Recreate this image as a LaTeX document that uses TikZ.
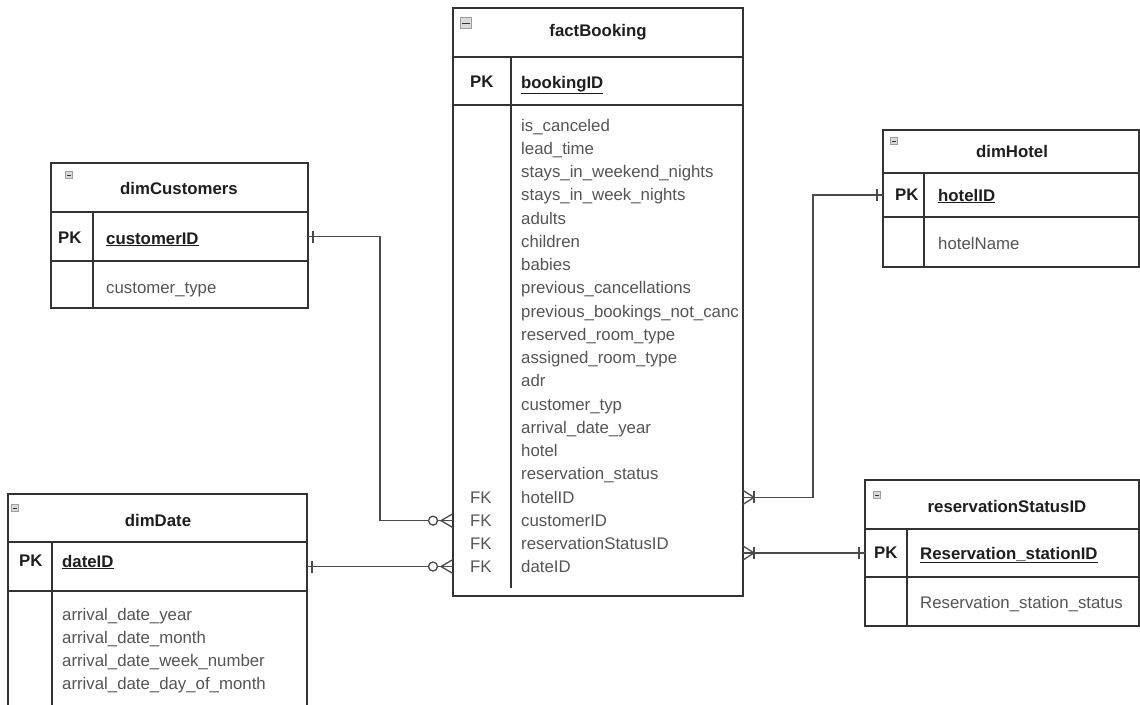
\documentclass[tikz,border=0pt]{standalone}
\usepackage{fontspec}
\setmainfont{Liberation Sans}
\definecolor{linec}{HTML}{333333}
\definecolor{connc}{HTML}{4A4A4A}
\definecolor{fieldc}{HTML}{555555}
\definecolor{titlec}{HTML}{1E1E1E}
\begin{document}
\begin{tikzpicture}[x=1pt,y=-1pt,
  box/.style={draw=linec, line width=1.3pt, inner sep=0pt, outer sep=0pt, anchor=north west},
  divl/.style={draw=linec, line width=1.3pt},
  conn/.style={draw=connc, line width=1.3pt},
  ttl/.style={font=\fontsize{16.8}{20}\selectfont\bfseries, text=titlec, inner sep=0pt},
  fld/.style={font=\fontsize{16.8}{20}\selectfont, text=fieldc, inner sep=0pt, anchor=base west},
  pkl/.style={font=\fontsize{16.8}{20}\selectfont\bfseries, text=titlec, inner sep=0pt, anchor=west},
  pkf/.style={font=\fontsize{16.8}{20}\selectfont\bfseries, text=titlec, inner sep=0pt, anchor=base west},
  icon/.style={draw=gray!75, fill=gray!30, minimum size=#1, inner sep=0pt, line width=0.6pt,
    path picture={\draw[gray!40!black, line width=0.8pt]
      ([xshift=1.5pt]path picture bounding box.west) -- ([xshift=-1.5pt]path picture bounding box.east);}},
  one/.pic={\draw[conn] (0,-6) -- (0,6);},
  zmany/.pic={\draw[conn] (0,-7) -- (-12,0) -- (0,7); \draw[conn, fill=white] (-20,0) circle (4.5pt);},
  omany/.pic={\draw[conn] (0,-7) -- (11,0) -- (0,7); \draw[conn] (11,-6) -- (11,6);}
]
\fill[white] (0,0) rectangle (1140,704);
\useasboundingbox (0,0) rectangle (1140,704);

% ---------- factBooking ----------
\node[box, minimum width=290pt, minimum height=49pt] (fbTitle) at (453,8) {};
\node[box, minimum width=290pt, minimum height=48pt] (fbPK) at (453,57) {};
\node[box, minimum width=290pt, minimum height=491pt] (fbBody) at (453,105) {};
\draw[divl] ([xshift=58pt]fbPK.north west) -- ([xshift=58pt]fbPK.south west);
\draw[divl] ([xshift=58pt]fbBody.north west) -- ([xshift=58pt,yshift=8pt]fbBody.south west);
\node[icon=11pt] (fbIcon) at (466,23) {};
\node[ttl] (fbT) at (598,32) {factBooking};
\node[pkl] (fbPKl) at (470,82) {PK};
\node[pkf] (fbPKf) at (521,88) {\underline{bookingID}};
\begin{scope}
\clip (fbBody.north west) rectangle (fbBody.south east);
\foreach \t [count=\i] in {is\_canceled, lead\_time, stays\_in\_weekend\_nights, stays\_in\_week\_nights,
  adults, children, babies, previous\_cancellations, previous\_bookings\_not\_canc,
  reserved\_room\_type, assigned\_room\_type, adr, customer\_typ, arrival\_date\_year, hotel,
  reservation\_status, hotelID, customerID, reservationStatusID, dateID}
  \node[fld] (fbf\i) at (521,{131+23.26*(\i-1)}) {\t};
\end{scope}
\node[fld] (fkH) at (470,{131+23.26*16}) {FK};
\node[fld] (fkC) at (470,{131+23.26*17}) {FK};
\node[fld] (fkR) at (470,{131+23.26*18}) {FK};
\node[fld] (fkD) at (470,{131+23.26*19}) {FK};

% ---------- dimCustomers ----------
\node[box, minimum width=257pt, minimum height=49pt] (custTitle) at (51,163) {};
\node[box, minimum width=257pt, minimum height=49pt] (custPK) at (51,212) {};
\node[box, minimum width=257pt, minimum height=47pt] (custBody) at (51,261) {};
\draw[divl] ([xshift=42pt]custPK.north west) -- ([xshift=42pt]custBody.south west);
\node[icon=7pt] (custIcon) at (69,175) {};
\node[ttl] (custT) at (179,188) {dimCustomers};
\node[pkl] (custPKl) at (58,238) {PK};
\node[pkf] (custPKf) at (106,244) {\underline{customerID}};
\node[fld] (custF1) at (106,293) {customer\_type};

% ---------- dimHotel ----------
\node[box, minimum width=256pt, minimum height=43pt] (hotelTitle) at (883,130) {};
\node[box, minimum width=256pt, minimum height=44pt] (hotelPK) at (883,173) {};
\node[box, minimum width=256pt, minimum height=50pt] (hotelBody) at (883,217) {};
\draw[divl] ([xshift=41pt]hotelPK.north west) -- ([xshift=41pt]hotelBody.south west);
\node[icon=7pt] (hotelIcon) at (894,141) {};
\node[ttl] (hotelT) at (1012,151) {dimHotel};
\node[pkl] (hotelPKl) at (895,195) {PK};
\node[pkf] (hotelPKf) at (938,201) {\underline{hotelID}};
\node[fld] (hotelF1) at (938,249) {hotelName};

% ---------- dimDate ----------
\node[box, minimum width=299pt, minimum height=48pt] (dateTitle) at (8,494) {};
\node[box, minimum width=299pt, minimum height=49pt] (datePK) at (8,542) {};
\node[box, minimum width=299pt, minimum height=125pt] (dateBody) at (8,591) {};
\draw[divl] ([xshift=44pt]datePK.north west) -- ([xshift=44pt]dateBody.south west);
\node[icon=7pt] (dateIcon) at (15,508) {};
\node[ttl] (dateT) at (158,520) {dimDate};
\node[pkl] (datePKl) at (19,561) {PK};
\node[pkf] (datePKf) at (62,567) {\underline{dateID}};
\node[fld] (dateF1) at (62,620) {arrival\_date\_year};
\node[fld] (dateF2) at (62,643) {arrival\_date\_month};
\node[fld] (dateF3) at (62,666) {arrival\_date\_week\_number};
\node[fld] (dateF4) at (62,689) {arrival\_date\_day\_of\_month};

% ---------- reservationStatusID ----------
\node[box, minimum width=274pt, minimum height=49pt] (resTitle) at (865,480) {};
\node[box, minimum width=274pt, minimum height=48pt] (resPK) at (865,529) {};
\node[box, minimum width=274pt, minimum height=49pt] (resBody) at (865,577) {};
\draw[divl] ([xshift=42pt]resPK.north west) -- ([xshift=42pt]resBody.south west);
\node[icon=7pt] (resIcon) at (877,495) {};
\node[ttl] (resT) at (1007,506) {reservationStatusID};
\node[pkl] (resPKl) at (874,553) {PK};
\node[pkf] (resPKf) at (920,559) {\underline{Reservation\_stationID}};
\node[fld] (resF1) at (920,608) {Reservation\_station\_status};

% ---------- connectors ----------
\coordinate (jx1) at (380,0);
\coordinate (jx2) at (813,0);
\draw[conn] (custPK.east) -- (custPK.east -| jx1) -- (jx1 |- fkC) -- (fbBody.west |- fkC);
\draw[conn] (datePK.east) -- (datePK.east -| fbBody.west);
\draw[conn] (fbBody.east |- fkH) -- (jx2 |- fkH) -- (jx2 |- hotelPK.west) -- (hotelPK.west);
\draw[conn] (resPK.west) -- (resPK.west -| fbBody.east);

\pic at ([xshift=5pt]custPK.east) {one};
\pic at ([xshift=5pt]datePK.east) {one};
\pic at ([xshift=-6pt]hotelPK.west) {one};
\pic at ([xshift=-6pt]resPK.west) {one};
\pic at (fbBody.west |- fkC) {zmany};
\pic at (datePK.east -| fbBody.west) {zmany};
\pic at (fbBody.east |- fkH) {omany};
\pic at (resPK.west -| fbBody.east) {omany};
\end{tikzpicture}
\end{document}
